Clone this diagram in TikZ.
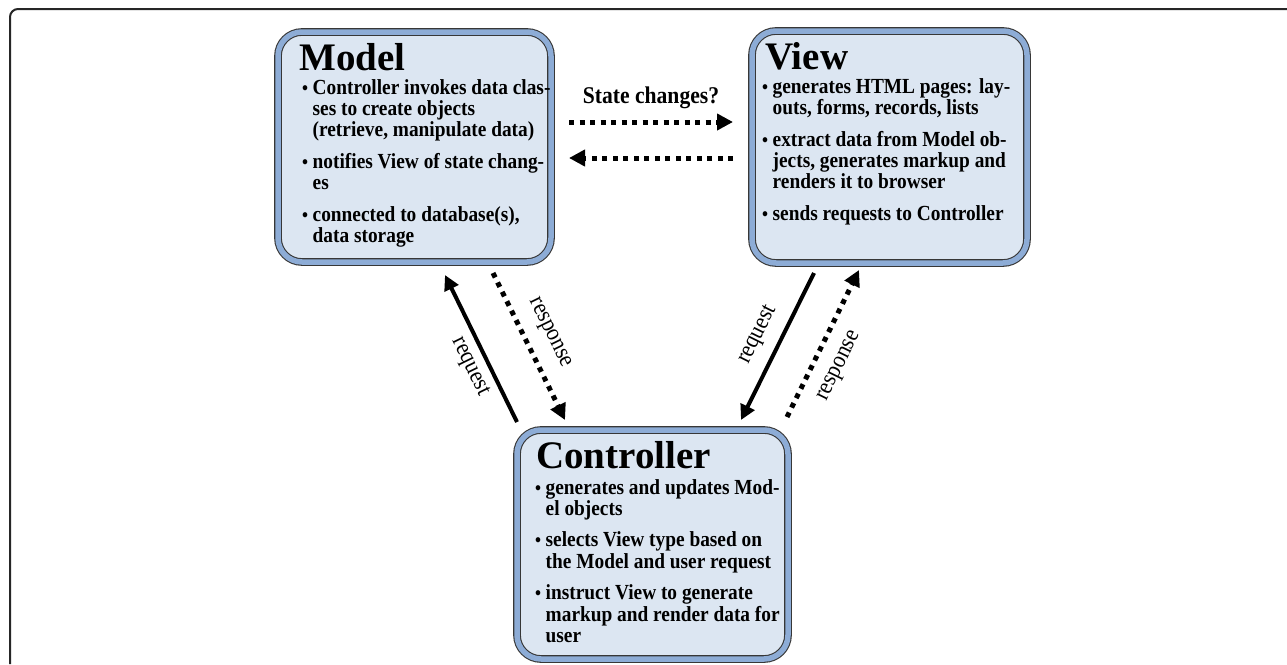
\documentclass[tikz,border=0pt]{standalone}
\usepackage{fontspec}
\setmainfont{Liberation Serif}
\newfontfamily\boxfont[FakeStretch=0.9]{Liberation Serif}
\usetikzlibrary{arrows.meta}

\definecolor{boxfill}{RGB}{220,230,242}
\definecolor{boxband}{RGB}{141,172,214}
\definecolor{boxline}{RGB}{55,55,55}

\newcommand{\blt}{{\fontsize{19}{19}\selectfont\textbullet}}
\newcommand{\gap}{\\[10.2pt]}

\begin{document}
\begin{tikzpicture}[x=1pt, y=-1pt,
  mvcbox/.style={draw=boxline, line width=1.1pt, double=boxband, double distance=5.5pt,
    fill=boxfill, rounded corners=24pt, inner sep=0pt},
  mvctitle/.style={anchor=base west, inner sep=0pt, font=\bfseries\fontsize{39}{39}\selectfont},
  mvcitems/.style={anchor=base west, inner sep=0pt, font=\boxfont\bfseries\fontsize{21.5}{21.3}\selectfont},
  flow/.style={line width=4pt, -{Triangle[length=15pt,width=15pt]}},
  dotflow/.style={line width=5pt, dash pattern=on 5pt off 5.5pt, -{Triangle[length=16pt,width=16pt]}},
  lbl/.style={font=\boxfont\fontsize{24}{24}\selectfont, sloped, inner sep=2pt}]

\useasboundingbox (0,0) rectangle (1287,664);

% frame
\draw[line width=2pt, black!85, rounded corners=8pt] (10,664) -- (10,9) -- (1287,9);

% boxes
\node[mvcbox, minimum width=273, minimum height=230] (model) at (414.5,147) {};
\node[mvcbox, minimum width=275, minimum height=232] (view) at (889.5,147) {};
\node[mvcbox, minimum width=271, minimum height=229] (ctrl) at (652.5,544.5) {};

% Model
\node[mvctitle] (model-t) at (299,70) {Model};
\node[mvcitems] (model-i) at (302,94) {\begin{tabular}[t]{@{}p{10.5pt}@{}l@{}}
  \blt & Controller invokes data clas-\\
       & ses to create objects\\
       & (retrieve, manipulate data)\gap
  \blt & notifies View of state chang-\\
       & es\gap
  \blt & connected to database(s),\\
       & data storage
\end{tabular}};

% View
\node[mvctitle] (view-t) at (765,69) {View};
\node[mvcitems] (view-i) at (762,93) {\begin{tabular}[t]{@{}p{10.5pt}@{}l@{}}
  \blt & generates HTML pages: lay-\\
       & outs, forms, records, lists\gap
  \blt & extract data from Model ob-\\
       & jects, generates markup and\\
       & renders it to browser\gap
  \blt & sends requests to Controller
\end{tabular}};

% Controller
\node[mvctitle] (ctrl-t) at (536,468) {Controller};
\node[mvcitems] (ctrl-i) at (535,494) {\begin{tabular}[t]{@{}p{10.5pt}@{}l@{}}
  \blt & generates and updates Mod-\\
       & el objects\gap
  \blt & selects View type based on\\
       & the Model and user request\gap
  \blt & instruct View to generate\\
       & markup and render data for\\
       & user
\end{tabular}};

% Model <-> View
\coordinate (sc-l) at (569,122);
\coordinate (sc-r) at (733,122);
\coordinate (nt-r) at (733,158);
\coordinate (nt-l) at (569,158);
\draw[dotflow] (sc-l) -- node[anchor=base, yshift=19pt, font=\boxfont\bfseries\fontsize{24}{24}\selectfont] (sc-lbl) {State changes?} (sc-r);
\draw[dotflow] (nt-r) -- (nt-l);

% Model <-> Controller
\coordinate (req-c) at (517,422);
\coordinate (req-m) at (445,275);
\coordinate (resp-m) at (493,273);
\coordinate (resp-c) at (565,420);
\draw[flow] (req-c) -- node[lbl, below=5pt, pos=0.43] (req-ml) {request} (req-m);
\draw[dotflow] (resp-m) -- node[lbl, above=11pt, pos=0.48] (resp-ml) {response} (resp-c);

% View <-> Controller
\coordinate (req-v) at (814,273);
\coordinate (req-c2) at (741,420);
\coordinate (resp-c2) at (787,417);
\coordinate (resp-v) at (859,270);
\draw[flow] (req-v) -- node[lbl, above=9pt, pos=0.49] (req-vl) {request} (req-c2);
\draw[dotflow] (resp-c2) -- node[lbl, below=13pt, pos=0.42] (resp-vl) {response} (resp-v);

\end{tikzpicture}
\end{document}
